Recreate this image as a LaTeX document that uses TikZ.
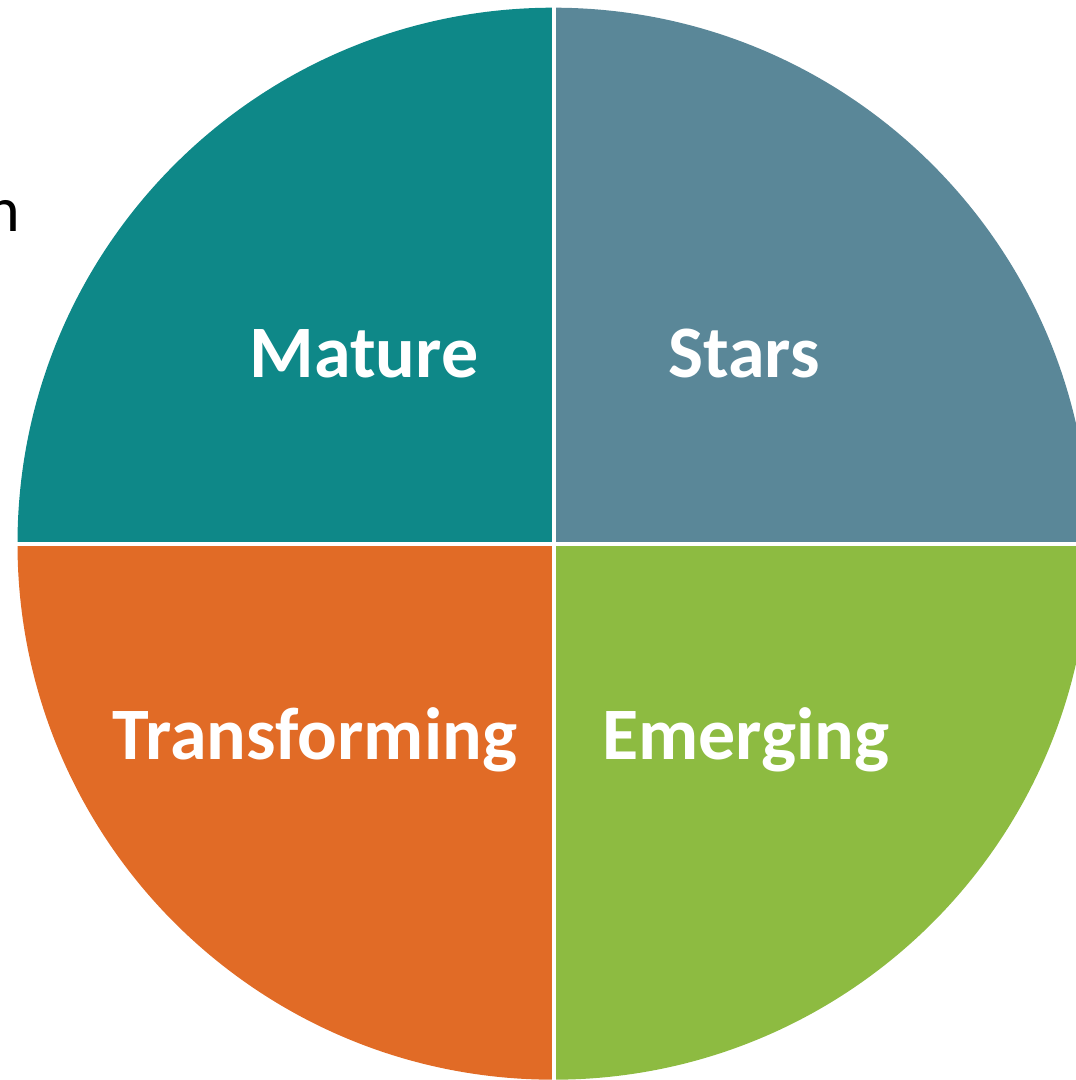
\documentclass[tikz,border=0pt]{standalone}
\usepackage{fontspec}
\setmainfont{Carlito}
\definecolor{matureC}{RGB}{14,136,136}
\definecolor{starsC}{RGB}{90,135,152}
\definecolor{transC}{RGB}{225,107,38}
\definecolor{emergC}{RGB}{141,187,65}
\begin{document}
\begin{tikzpicture}[x=1pt,y=1pt,
  quadlabel/.style={text=white,font=\bfseries\fontsize{74}{82}\selectfont,inner sep=0pt,anchor=base},
  divider/.style={draw=white,line width=4pt}]
\useasboundingbox (0,0) rectangle (1076,1080);
\clip (0,0) rectangle (1076,1080);
\coordinate (c) at (553.5,536.3);
\def\rad{536}
% four quadrants of the disc
\fill[matureC] (c) -- ++(180:\rad) arc[start angle=180,end angle=90,radius=\rad] -- cycle;
\fill[starsC]  (c) -- ++(90:\rad)  arc[start angle=90,end angle=0,radius=\rad] -- cycle;
\fill[transC]  (c) -- ++(180:\rad) arc[start angle=180,end angle=270,radius=\rad] -- cycle;
\fill[emergC]  (c) -- ++(270:\rad) arc[start angle=270,end angle=360,radius=\rad] -- cycle;
% white separators
\draw[divider] (553.5,0) -- (553.5,1080);
\draw[divider] (0,536.3) -- (1076,536.3);
% labels
\node[quadlabel] (mature) at (364,702) {Mature};
\node[quadlabel] (stars) at (744,702) {Stars};
\node[quadlabel] (transforming) at (315,320) {Transforming};
\node[quadlabel] (emerging) at (746,320) {Emerging};
% text running in from the left
\node[font=\fontsize{64}{72}\selectfont,inner sep=0pt,anchor=base east] (side) at (20,848) {n};
\end{tikzpicture}
\end{document}
